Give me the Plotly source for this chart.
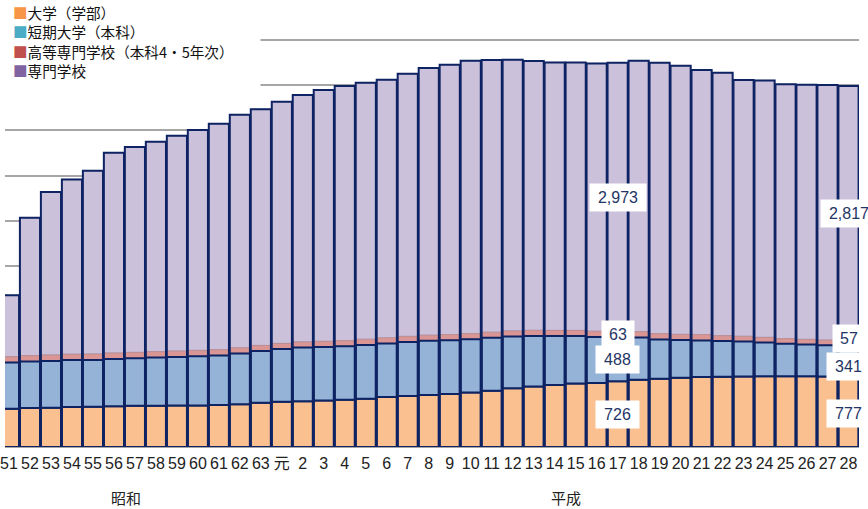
import plotly.graph_objects as go

# ---------------- data ----------------
years = ["51", "52", "53", "54", "55", "56", "57", "58", "59", "60", "61", "62", "63",
         "元", "2", "3", "4", "5", "6", "7", "8", "9", "10", "11", "12", "13", "14",
         "15", "16", "17", "18", "19", "20", "21", "22", "23", "24", "25", "26", "27", "28"]

univ = [423, 431, 433, 443, 446, 451, 455, 457, 460, 460, 465, 474, 490,
        499, 507, 514, 523, 534, 552, 565, 576, 586, 604, 622, 649, 669, 686,
        702, 709, 726, 744, 756, 765, 773, 778, 780, 783, 782, 781, 779, 777]

junior = [511, 515, 519, 518, 517, 523, 526, 532, 536, 543, 548, 561, 571,
          584, 593, 592, 591, 595, 593, 596, 598, 595, 588, 585, 572, 559, 541,
          525, 508, 488, 468, 434, 417, 406, 395, 387, 372, 359, 352, 346, 341]

kosen = [65, 65, 65, 65, 65, 65, 65, 65, 65, 65, 62, 62, 62,
         62, 62, 62, 62, 62, 62, 62, 62, 62, 62, 62, 62, 62, 62,
         62, 63, 63, 63, 63, 63, 64, 58, 57, 57, 57, 57, 57, 57]

senmon = [679, 1523, 1804, 1933, 2026, 2214, 2270, 2321, 2380, 2436, 2499, 2576, 2613,
          2674, 2729, 2779, 2815, 2836, 2854, 2904, 2954, 2984, 3017, 3010, 2999, 2978, 2964,
          2962, 2962, 2973, 2996, 2996, 2971, 2925, 2907, 2833, 2842, 2812, 2815, 2820, 2817]

series_names = ["大学（学部）", "短期大学（本科）", "高等専門学校（本科4・5年次）", "専門学校"]
era_labels = ["昭和", "平成"]
labelled_years = ["17", "28"]

# ---------------- styles ----------------
NAVY = "#0E2363"
FILL = ["#FAC090", "#95B3D7", "#D99694", "#CCC1DA"]
LEGEND_COL = ["#F79646", "#4BACC6", "#C0504D", "#8064A2"]
GRID = "#A6A6A6"
W, H = 868, 509
ML, MR, MT, MB = 0, 9, 31, 62
YMAX = 4600
PLOT_H = H - MT - MB
PLOT_W = W - ML - MR

b_jc = univ
b_ko = [u + j for u, j in zip(univ, junior)]
b_se = [b + k for b, k in zip(b_ko, kosen)]
total = [b + s for b, s in zip(b_se, senmon)]

fig = go.Figure()
# draw order: purple, pink, orange, blue, outline
fig.add_bar(x=years, y=senmon, base=b_se, name=series_names[3], showlegend=False,
            marker=dict(color=FILL[3], line=dict(color="#9E94BA", width=0.8)))
fig.add_bar(x=years, y=kosen, base=b_ko, name=series_names[2], showlegend=False,
            marker=dict(color=FILL[2], line=dict(color="#B98A8E", width=0.8)))
fig.add_bar(x=years, y=univ, base=[0] * len(years), name=series_names[0], showlegend=False,
            marker=dict(color=FILL[0], line=dict(color=NAVY, width=2)))
fig.add_bar(x=years, y=junior, base=b_jc, name=series_names[1], showlegend=False,
            marker=dict(color=FILL[1], line=dict(color=NAVY, width=2)))
fig.add_bar(x=years, y=total, base=[0] * len(years), name="total", showlegend=False,
            hoverinfo="skip",
            marker=dict(color="rgba(0,0,0,0)", line=dict(color=NAVY, width=2)))

annotations = []


def py_to_paper(py):
    return (H - MB - py) / PLOT_H


# legend drawn as text rows
leg_rows = [12.7, 31.9, 51.2, 70.4]
for name, col, py in zip(series_names, LEGEND_COL, leg_rows):
    annotations.append(dict(
        text=f'<span style="color:{col}">■</span>{name}',
        xref="paper", yref="paper", x=6.5 / PLOT_W, y=py_to_paper(py),
        xanchor="left", yanchor="middle", showarrow=False,
        font=dict(family="Noto Sans CJK JP", size=14.6, color="#111111")))

# era labels
for txt, px in zip(era_labels, [121.5, 564]):
    annotations.append(dict(
        text=txt, xref="paper", yref="paper", x=px / PLOT_W, y=py_to_paper(498),
        xanchor="center", yanchor="middle", showarrow=False,
        font=dict(family="Noto Sans CJK JP", size=15, color="#222222")))

# data labels
shifts = {"28": {1: -5, 2: 4.5, 0: -2}}
for yr in labelled_years:
    i = years.index(yr)
    segs = [(senmon[i], b_se[i], 3), (kosen[i], b_ko[i], 2),
            (junior[i], b_jc[i], 1), (univ[i], 0, 0)]
    for v, b, k in segs:
        txt = f"{v:,}"
        wbox = {2: 32, 3: 43}.get(len(txt), 56)
        annotations.append(dict(
            text=txt, x=i, y=b + v / 2, xref="x", yref="y",
            xanchor="center", yanchor="middle", showarrow=False,
            yshift=shifts.get(yr, {}).get(k, 0),
            bgcolor="white", borderpad=0, width=wbox, height=27,
            font=dict(family="Liberation Sans, Arial", size=16, color="#1F3565")))

fig.update_layout(
    width=W, height=H,
    margin=dict(l=ML, r=MR, t=MT, b=MB),
    paper_bgcolor="white", plot_bgcolor="white",
    barmode="overlay", bargap=0.04,
    showlegend=False,
    annotations=annotations,
    shapes=[dict(type="rect", xref="paper", yref="y", x0=-0.01, x1=257 / PLOT_W,
                 y0=3850, y1=YMAX, fillcolor="white", line=dict(width=0), layer="above")],
    xaxis=dict(type="category", range=[-0.19, 40.5], showgrid=False, ticks="",
               showline=False, ticklabelstandoff=5,
               tickfont=dict(family="Liberation Sans, Noto Sans CJK JP", size=16, color="#222222")),
    yaxis=dict(range=[0, YMAX], dtick=500, showticklabels=False, ticks="",
               showgrid=True, gridcolor=GRID, gridwidth=1.5,
               zeroline=True, zerolinecolor=GRID, zerolinewidth=1.5),
)

fig.write_html("out.html", config={"displayModeBar": False},
               post_script="document.body.style.margin='0';document.body.style.overflow='hidden';")
